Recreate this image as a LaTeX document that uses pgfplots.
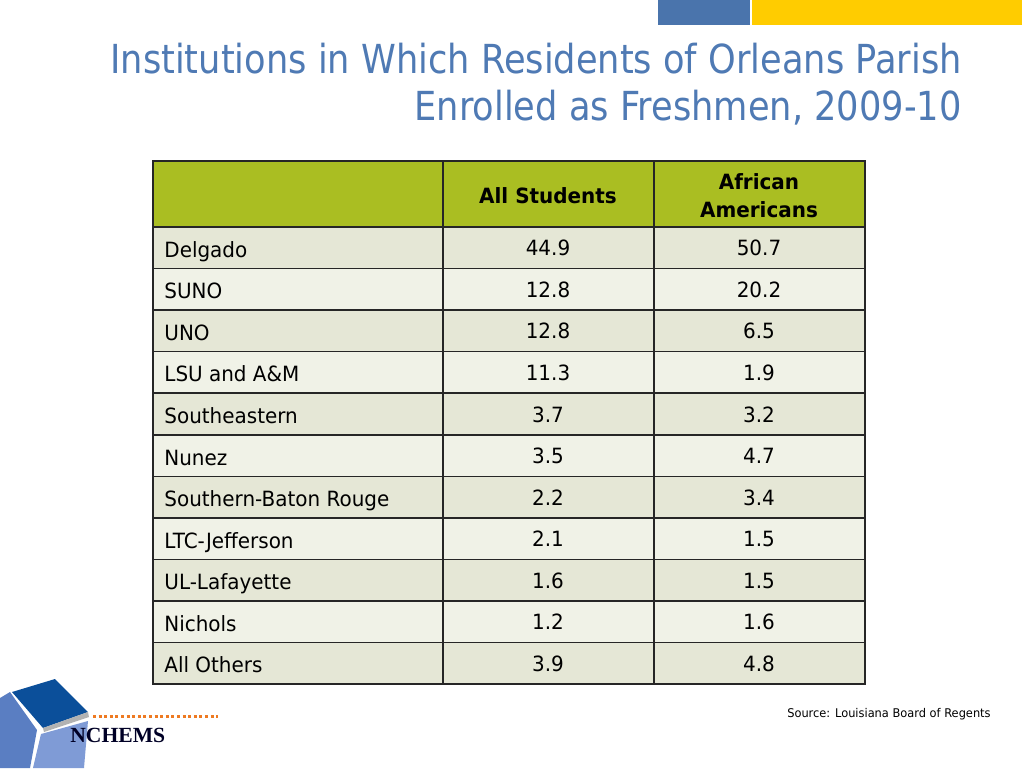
\documentclass[border=0pt]{standalone}
\usepackage{pgfplots}
\pgfplotsset{compat=1.18}
\usepackage{pgfplotstable}
\usepackage{fontspec}
\setmainfont{DejaVu Sans}[FakeStretch=0.95]
\newfontfamily\titlefont{DejaVu Sans}[FakeStretch=0.88]
\newfontfamily\logofont{Liberation Serif}
\definecolor{titleblue}{HTML}{4F7AB4}
\definecolor{hdrgreen}{HTML}{AABE22}
\definecolor{rowdark}{HTML}{E5E7D6}
\definecolor{rowlight}{HTML}{F0F2E7}
\definecolor{barblue}{HTML}{4A74AC}
\definecolor{baryellow}{HTML}{FFCC00}
\definecolor{logodark}{HTML}{0B4F9A}
\definecolor{logomid}{HTML}{5A7EC2}
\definecolor{logolight}{HTML}{7F9BD6}
\definecolor{dotorange}{HTML}{EE7A22}
\pgfplotstableread[col sep=comma]{
y,name,all,aa
257.3,Delgado,44.9,50.7
298.8,SUNO,12.8,20.2
340.4,UNO,12.8,6.5
381.9,LSU and A\&M,11.3,1.9
423.5,Southeastern,3.7,3.2
465.0,Nunez,3.5,4.7
506.5,Southern-Baton Rouge,2.2,3.4
548.1,LTC-Jefferson,2.1,1.5
589.7,UL-Lafayette,1.6,1.5
631.2,Nichols,1.2,1.6
672.8,All Others,3.9,4.8
}\data
\begin{document}
\begin{tikzpicture}
\begin{axis}[scale only axis, width=512pt, height=384pt,
  xmin=0, xmax=1024, ymin=0, ymax=768, y dir=reverse,
  hide axis, clip=false]
% background
\fill[white] (axis cs:0,0) rectangle (axis cs:1024,768);
% top bars
\fill[barblue] (axis cs:658,0) rectangle (axis cs:750,25);
\fill[baryellow] (axis cs:752,0) rectangle (axis cs:1022,25);
% title
\node[anchor=base east, font=\titlefont\fontsize{20}{24}\selectfont, text=titleblue, inner sep=0pt] at (axis cs:962,73) {Institutions in Which Residents of Orleans Parish};
\node[anchor=base east, font=\titlefont\fontsize{20}{24}\selectfont, text=titleblue, inner sep=0pt] at (axis cs:962,120) {Enrolled as Freshmen, 2009-10};
% table fills
\fill[hdrgreen] (axis cs:153,161) rectangle (axis cs:865,227);
\pgfplotsinvokeforeach{0,2,4,6,8,10}{%
  \fill[rowdark] (axis cs:153,{227+41.55*#1}) rectangle (axis cs:865,{227+41.55*(#1+1)});}
\pgfplotsinvokeforeach{1,3,5,7,9}{%
  \fill[rowlight] (axis cs:153,{227+41.55*#1}) rectangle (axis cs:865,{227+41.55*(#1+1)});}
% grid lines
\pgfplotsinvokeforeach{0,...,11}{%
  \draw[black!85, line width=0.75pt] (axis cs:153,{227+41.55*#1}) -- (axis cs:865,{227+41.55*#1});}
\draw[black!85, line width=0.75pt] (axis cs:153,161) rectangle (axis cs:865,684);
\draw[black!85, line width=0.75pt] (axis cs:443,161) -- (axis cs:443,684);
\draw[black!85, line width=0.75pt] (axis cs:654,161) -- (axis cs:654,684);
% header text
\node[font=\bfseries\fontsize{10.5}{13}\selectfont, anchor=base] at (axis cs:548,203) {All Students};
\node[font=\bfseries\fontsize{10.5}{13}\selectfont, anchor=base] at (axis cs:759,189.5) {African};
\node[font=\bfseries\fontsize{10.5}{13}\selectfont, anchor=base] at (axis cs:759,217) {Americans};
% data text
\addplot[only marks, mark=none, nodes near coords, point meta=explicit symbolic,
  nodes near coords style={anchor=base west, inner sep=0pt, font=\fontsize{10.5}{13}\selectfont}]
  table[x expr=164, y=y, meta=name] {\data};
\addplot[only marks, mark=none, nodes near coords, point meta=explicit symbolic,
  nodes near coords style={anchor=base, inner sep=0pt, font=\fontsize{10.5}{13}\selectfont}]
  table[x expr=548, y expr=\thisrow{y}-1.5, meta=all] {\data};
\addplot[only marks, mark=none, nodes near coords, point meta=explicit symbolic,
  nodes near coords style={anchor=base, inner sep=0pt, font=\fontsize{10.5}{13}\selectfont}]
  table[x expr=759, y expr=\thisrow{y}-1.5, meta=aa] {\data};
% source
\node[anchor=base east, inner sep=0pt, font=\fontsize{6}{7}\selectfont] at (axis cs:991,717) {Source: Louisiana Board of Regents};
% logo
\fill[logomid] (axis cs:0,698) -- (axis cs:10,692) -- (axis cs:37,730) -- (axis cs:30,768) -- (axis cs:0,768) -- cycle;
\fill[logodark] (axis cs:12,692) -- (axis cs:55,679) -- (axis cs:88,712) -- (axis cs:43,728) -- cycle;
\fill[gray!60] (axis cs:43,728) -- (axis cs:88,712) -- (axis cs:89,717) -- (axis cs:44,732) -- cycle;
\fill[logolight] (axis cs:41,734) -- (axis cs:88,721) -- (axis cs:84,768) -- (axis cs:33,768) -- cycle;
\draw[dotorange, line width=1.5pt, dash pattern=on 1.5pt off 1.3pt] (axis cs:93,716) -- (axis cs:218,716);
\node[anchor=base west, inner sep=0pt, font=\logofont\bfseries\fontsize{10.8}{12}\selectfont, text=black!85!blue] at (axis cs:70,742) {NCHEMS};
\end{axis}
\end{tikzpicture}
\end{document}
